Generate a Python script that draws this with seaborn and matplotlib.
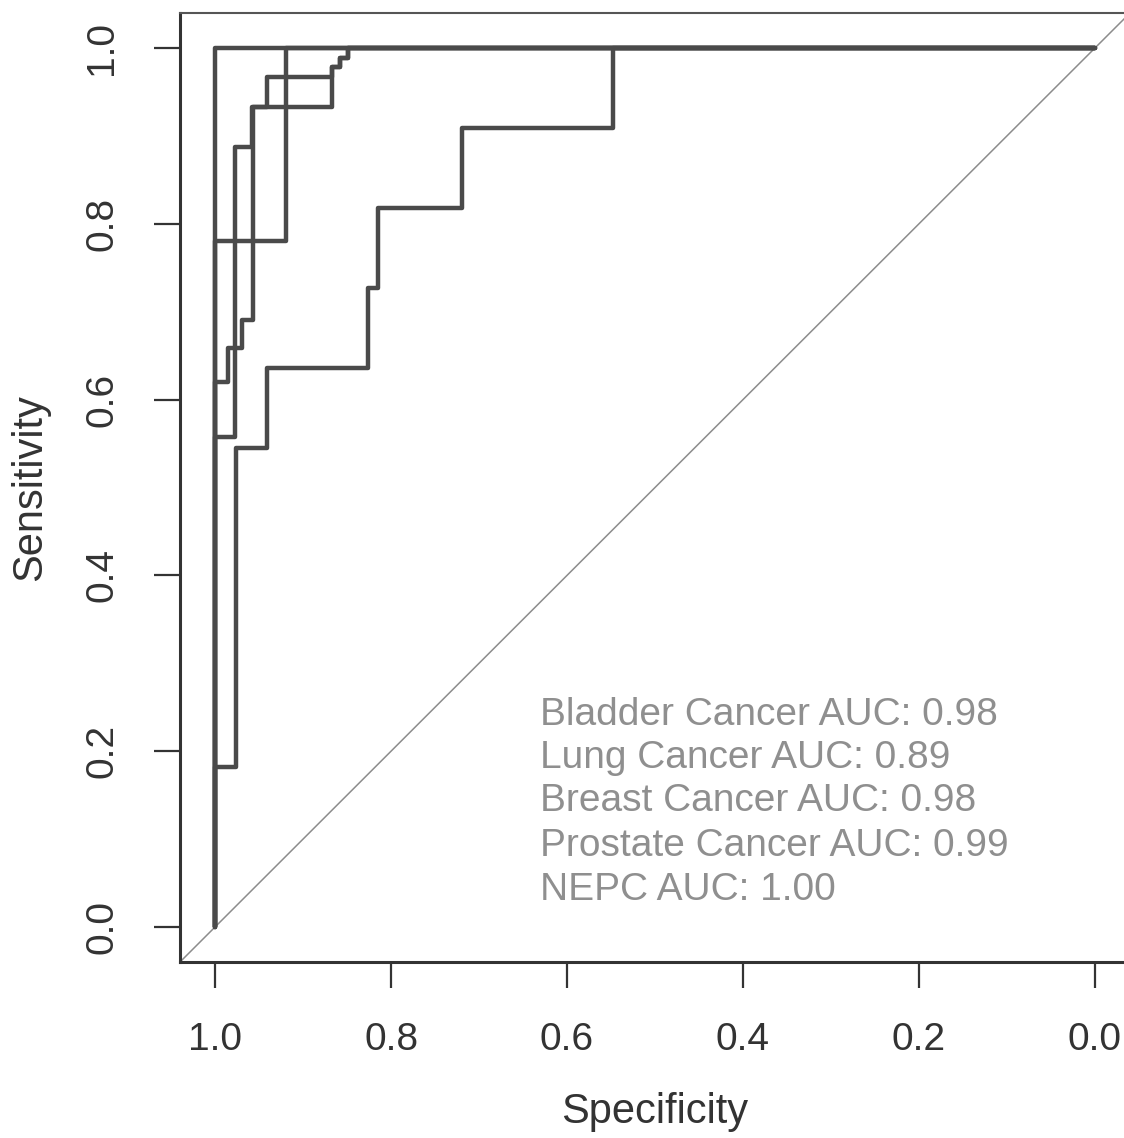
import numpy as np
import pandas as pd
import matplotlib
matplotlib.use("Agg")
import matplotlib.pyplot as plt
import seaborn as sns

sns.set_theme(style="white")
plt.rcParams['font.family'] = ['Liberation Sans', 'DejaVu Sans']

# ROC curve vertices (specificity, sensitivity)
bladder_spec = [1.0, 1.0, 0.92, 0.92, 0.0]
bladder_sens = [0.0, 0.78, 0.78, 1.0, 1.0]

lung_spec = [1.0, 1.0, 0.976, 0.976, 0.941, 0.941, 0.826, 0.826, 0.815, 0.815,
             0.719, 0.719, 0.548, 0.548, 0.0]
lung_sens = [0.0, 0.182, 0.182, 0.545, 0.545, 0.636, 0.636, 0.727, 0.727, 0.818,
             0.818, 0.909, 0.909, 1.0, 1.0]

breast_spec = [1.0, 1.0, 0.978, 0.978, 0.958, 0.958, 0.867, 0.867, 0.858, 0.858,
               0.849, 0.849, 0.0]
breast_sens = [0.0, 0.558, 0.558, 0.888, 0.888, 0.933, 0.933, 0.978, 0.978, 0.989,
               0.989, 1.0, 1.0]

prostate_spec = [1.0, 1.0, 0.986, 0.986, 0.969, 0.969, 0.957, 0.957, 0.941, 0.941,
                 0.867, 0.867, 0.858, 0.858, 0.849, 0.849, 0.0]
prostate_sens = [0.0, 0.62, 0.62, 0.659, 0.659, 0.691, 0.691, 0.933, 0.933, 0.967,
                 0.967, 0.978, 0.978, 0.989, 0.989, 1.0, 1.0]

nepc_spec = [1.0, 1.0, 0.0]
nepc_sens = [0.0, 1.0, 1.0]

legend_labels = ["Bladder Cancer AUC: 0.98", "Lung Cancer AUC: 0.89",
                 "Breast Cancer AUC: 0.98", "Prostate Cancer AUC: 0.99",
                 "NEPC AUC: 1.00"]
tick_values = [1.0, 0.8, 0.6, 0.4, 0.2, 0.0]
tick_labels = ["1.0", "0.8", "0.6", "0.4", "0.2", "0.0"]

curves = [("Bladder", bladder_spec, bladder_sens),
          ("Lung", lung_spec, lung_sens),
          ("Breast", breast_spec, breast_sens),
          ("Prostate", prostate_spec, prostate_sens),
          ("NEPC", nepc_spec, nepc_sens)]
frames = []
for name, sp, se in curves:
    frames.append(pd.DataFrame({"curve": name, "spec": sp, "sens": se,
                                "order": np.arange(len(sp))}))
df = pd.concat(frames, ignore_index=True)

W, H = 1124, 1138
fig = plt.figure(figsize=(W / 100, H / 100), dpi=100)
# axes box in pixels: left 180, right 1130 (cropped), top 13, bottom 962
ax = fig.add_axes([180 / W, 1 - 962 / H, 950 / W, 949 / H])
ax.set_facecolor("white")

line_col = "#4a4a4a"
ax.axline((1.0, 0.0), (0.0, 1.0), color="#8c8c8c", lw=1.1, zorder=1)

palette = {name: line_col for name, _, _ in curves}
sns.lineplot(data=df, x="spec", y="sens", hue="curve", units="curve",
             estimator=None, sort=False, palette=palette, linewidth=3.2,
             legend=False, ax=ax, zorder=3)

ax.set_xlim(1.04, -0.04)
ax.set_ylim(-0.04, 1.04)
ax.set_xticks(tick_values)
ax.set_xticklabels(tick_labels)
ax.set_yticks(tick_values)
ax.set_yticklabels(tick_labels)
ax.tick_params(axis="both", direction="out", length=19, width=1.6,
               color="#333333", labelsize=28, labelcolor="#333333",
               pad=24, bottom=True, left=True)
ax.tick_params(axis="y", labelrotation=90)
for lab in ax.get_yticklabels():
    lab.set_va("center")

for side in ["left", "bottom"]:
    ax.spines[side].set_color("#333333")
    ax.spines[side].set_linewidth(2.2)
for side in ["top", "right"]:
    ax.spines[side].set_color("#555555")
    ax.spines[side].set_linewidth(1.5)

ax.set_xlabel("Specificity", fontsize=30, color="#333333")
ax.set_ylabel("Sensitivity", fontsize=30, color="#333333")
ax.xaxis.set_label_coords(0.5, (962 - 1092) / 949)
ax.yaxis.set_label_coords((50 - 180) / 950, 0.5)

# legend text block
ys = [715, 758, 801, 846, 890]
for lab, yp in zip(legend_labels, ys):
    ax.text((540 - 180) / 950, (962 - yp) / 949, lab, transform=ax.transAxes,
            fontsize=28, color="#8f8f8f", ha="left", va="center")

fig.savefig("out.png", dpi=100)
